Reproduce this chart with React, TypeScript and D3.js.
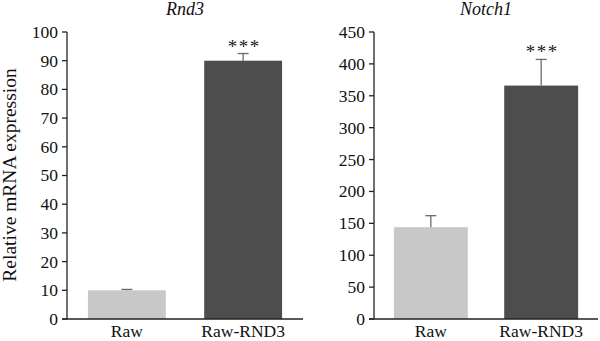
import React from "react";
import * as d3 from "d3";

const categories = ["Raw", "Raw-RND3"];
const rnd3Values = [10, 90];
const rnd3Errors = [0.3, 2.5];
const rnd3Ticks = [0, 10, 20, 30, 40, 50, 60, 70, 80, 90, 100];
const notchValues = [144, 366];
const notchErrors = [18, 41];
const notchTicks = [0, 50, 100, 150, 200, 250, 300, 350, 400, 450];
const significance = ["", "***"];
const barColors = ["#c8c8c8", "#4d4d4d"];

const FONT = "'Liberation Serif', 'DejaVu Serif', serif";
const FS = 17.5;

type PanelProps = {
  title: string;
  values: number[];
  errors: number[];
  ticks: number[];
  x0: number;
  x1: number;
  baseStart: number;
  baseEnd: number;
};

function Panel({ title, values, errors, ticks, x0, x1, baseStart, baseEnd }: PanelProps) {
  const yTop = 32;
  const yBottom = 319;
  const maxV = ticks[ticks.length - 1];
  const y = d3.scaleLinear().domain([0, maxV]).range([yBottom, yTop]);
  const x = d3
    .scaleBand<string>()
    .domain(categories)
    .range([x0, x1])
    .paddingInner(0.33)
    .paddingOuter(0.18);
  const bw = x.bandwidth();
  return (
    <g>
      <text
        x={(x0 + x1) / 2}
        y={15}
        textAnchor="middle"
        fontStyle="italic"
        fontSize={18}
        fontFamily={FONT}
        fill="#111"
      >
        {title}
      </text>
      {categories.map((c, i) => {
        const cx = (x(c) as number) + bw / 2;
        const top = y(values[i] + errors[i]);
        return (
          <g key={c}>
            <rect
              x={x(c)}
              y={y(values[i])}
              width={bw}
              height={yBottom - y(values[i])}
              fill={barColors[i]}
            />
            <line x1={cx} x2={cx} y1={y(values[i])} y2={top} stroke="#6a6a6a" strokeWidth={1.3} />
            <line x1={cx - 5.5} x2={cx + 5.5} y1={top} y2={top} stroke="#6a6a6a" strokeWidth={1.3} />
            {significance[i] && (
              <text
                x={cx + 1}
                y={top - 1}
                textAnchor="middle"
                fontSize={19}
                letterSpacing={1.5}
                fontFamily={FONT}
                fill="#222"
              >
                {significance[i]}
              </text>
            )}
            <text
              x={cx}
              y={337}
              textAnchor="middle"
              fontSize={FS}
              fontFamily={FONT}
              fill="#111"
            >
              {c}
            </text>
          </g>
        );
      })}
      <line x1={x0} x2={x0} y1={yTop} y2={yBottom} stroke="#222" strokeWidth={1.3} />
      <line x1={baseStart} x2={baseEnd} y1={yBottom} y2={yBottom} stroke="#222" strokeWidth={1.3} />
      {ticks.map((t) => (
        <g key={t}>
          <line x1={x0 - 5} x2={x0} y1={y(t)} y2={y(t)} stroke="#222" strokeWidth={1.3} />
          <text
            x={x0 - 9}
            y={y(t)}
            dy="0.34em"
            textAnchor="end"
            fontSize={FS}
            fontFamily={FONT}
            fill="#111"
          >
            {t}
          </text>
        </g>
      ))}
    </g>
  );
}

export default function App() {
  return (
    <svg
      width={600}
      height={341}
      style={{ position: "absolute", left: 0, top: 0, background: "#fff" }}
    >
      <rect width={600} height={341} fill="#fff" />
      <text
        transform="translate(16,175) rotate(-90)"
        textAnchor="middle"
        fontSize={19.5}
        fontFamily={FONT}
        fill="#111"
      >
        Relative mRNA expression
      </text>
      <Panel
        title="Rnd3"
        values={rnd3Values}
        errors={rnd3Errors}
        ticks={rnd3Ticks}
        x0={67}
        x1={303}
        baseStart={62}
        baseEnd={303}
      />
      <Panel
        title="Notch1"
        values={notchValues}
        errors={notchErrors}
        ticks={notchTicks}
        x0={374}
        x1={598}
        baseStart={369}
        baseEnd={598}
      />
    </svg>
  );
}
